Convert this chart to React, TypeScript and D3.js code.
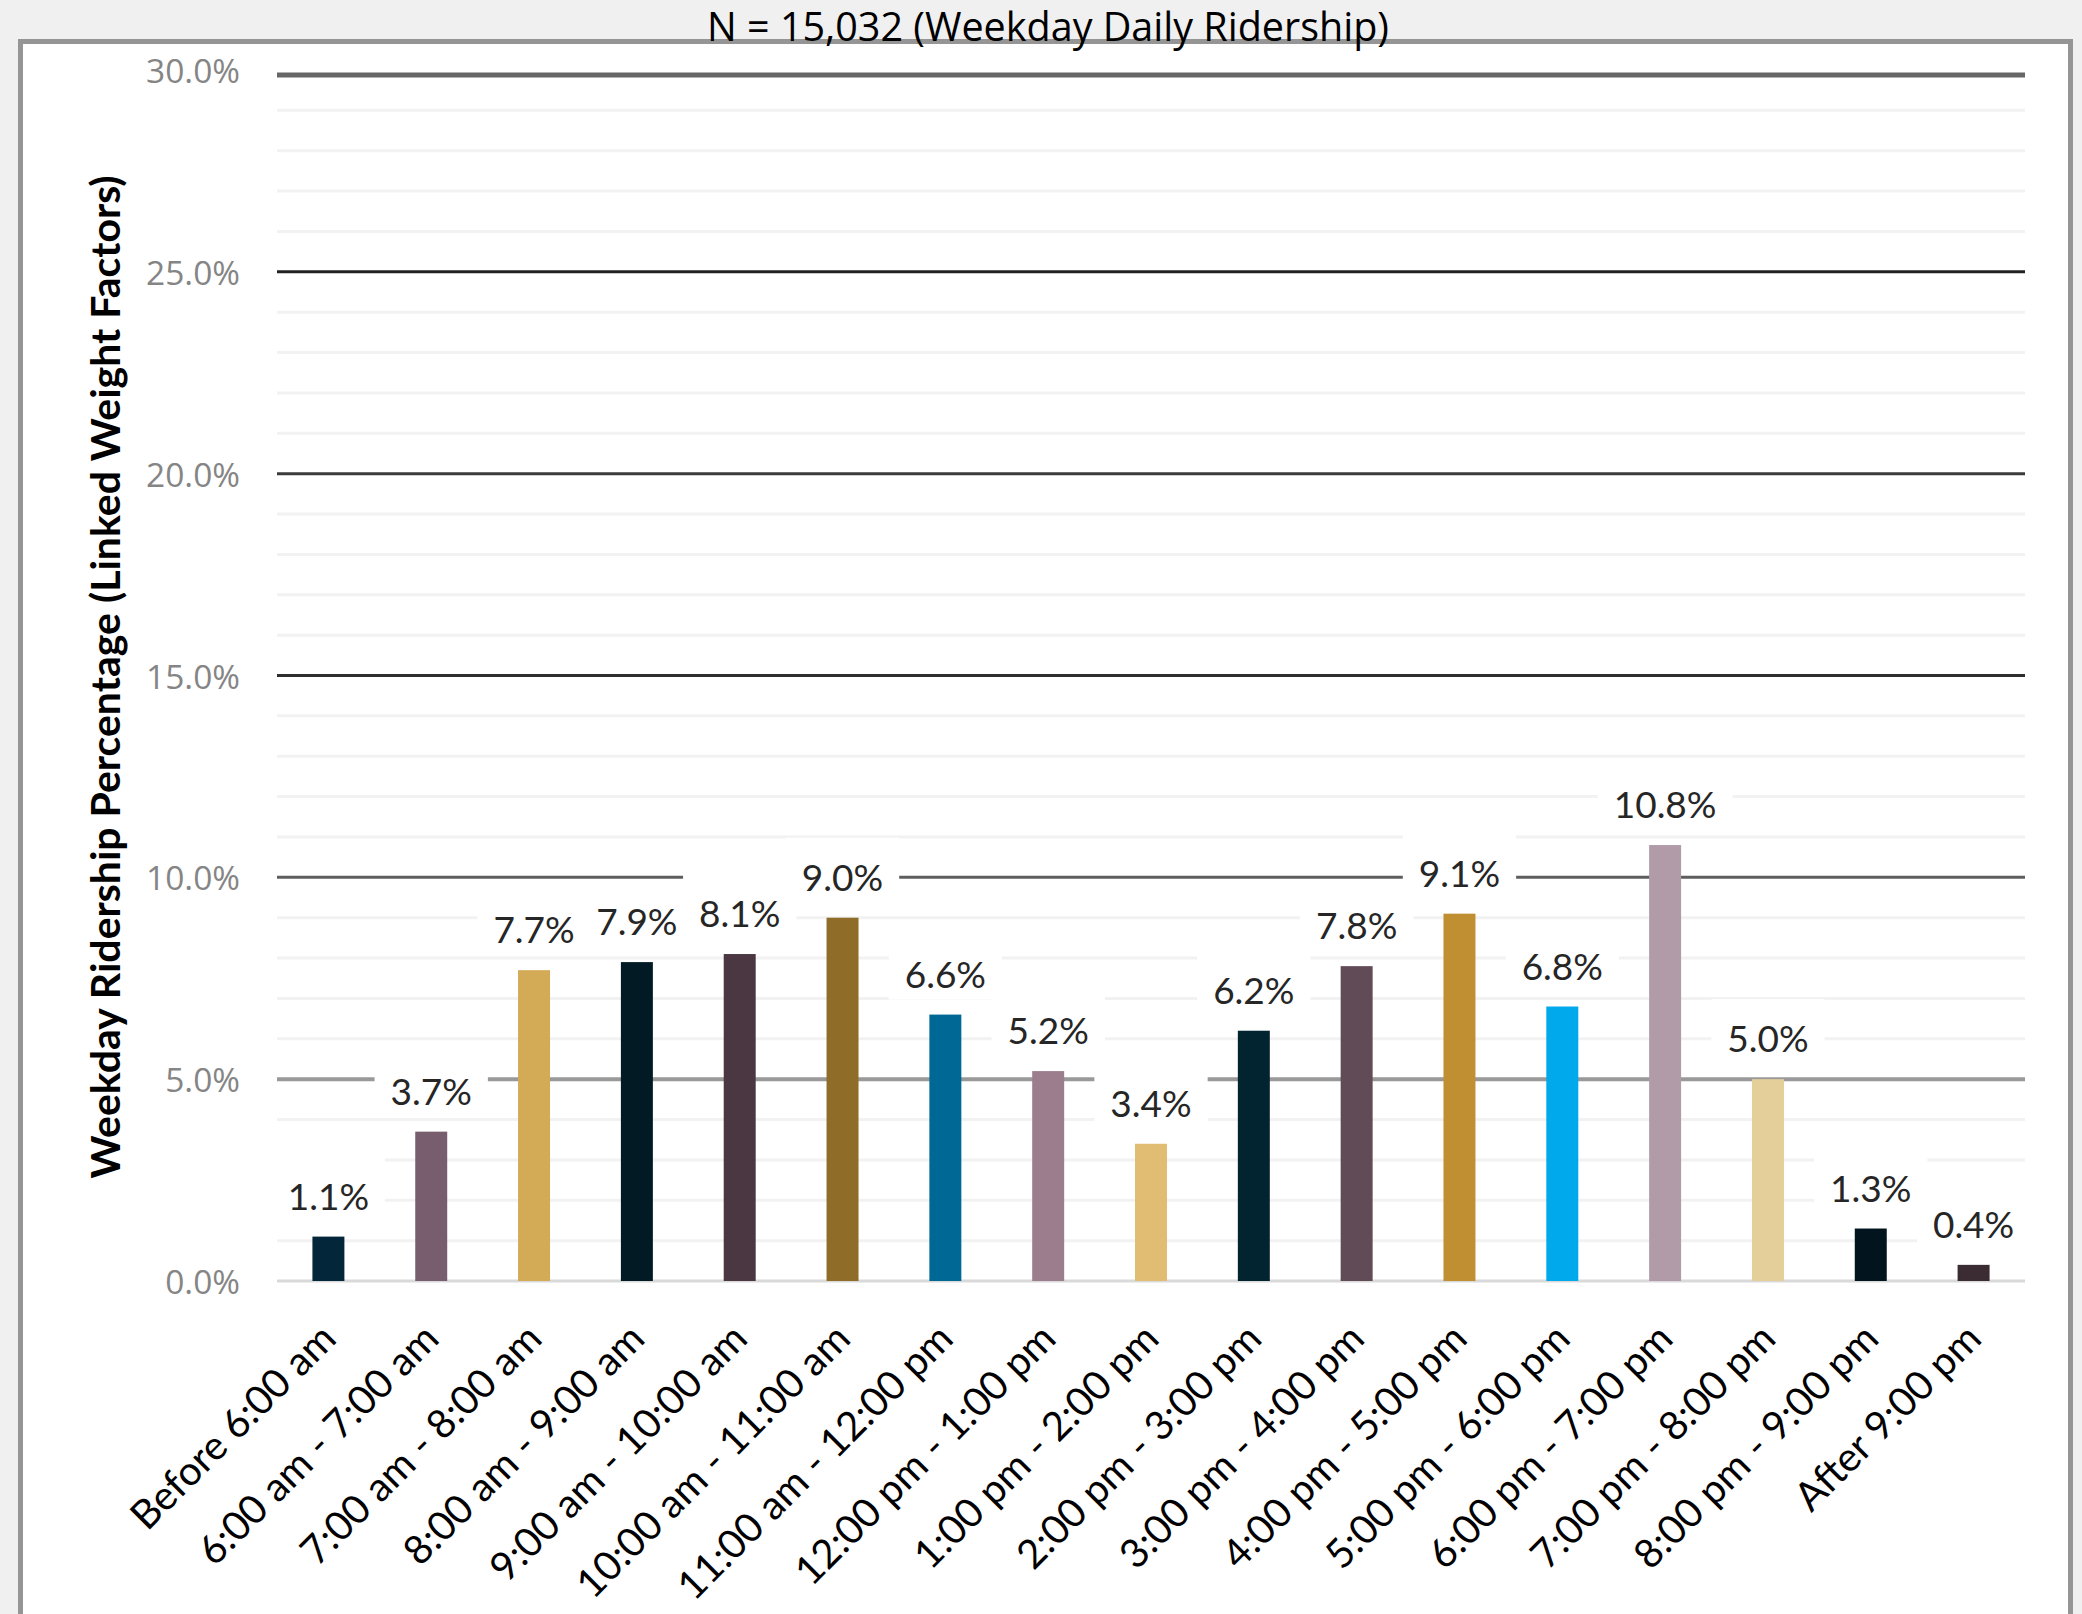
import React from 'react';
import * as d3 from 'd3';

const categories = [
  'Before 6:00 am', '6:00 am - 7:00 am', '7:00 am - 8:00 am', '8:00 am - 9:00 am',
  '9:00 am - 10:00 am', '10:00 am - 11:00 am', '11:00 am - 12:00 pm', '12:00 pm - 1:00 pm',
  '1:00 pm - 2:00 pm', '2:00 pm - 3:00 pm', '3:00 pm - 4:00 pm', '4:00 pm - 5:00 pm',
  '5:00 pm - 6:00 pm', '6:00 pm - 7:00 pm', '7:00 pm - 8:00 pm', '8:00 pm - 9:00 pm',
  'After 9:00 pm',
];
const values = [1.1, 3.7, 7.7, 7.9, 8.1, 9.0, 6.6, 5.2, 3.4, 6.2, 7.8, 9.1, 6.8, 10.8, 5.0, 1.3, 0.4];
const barColors = [
  '#03263A', '#775D6E', '#D3AA55', '#021A24', '#4A3741', '#8F6C27', '#006895', '#9C7D8D',
  '#E1BC73', '#022330', '#604B57', '#C08F32', '#00A9EC', '#B29BA8', '#E4CE9A', '#02141E', '#3B2B33',
];
const majorTicks = [0, 5, 10, 15, 20, 25, 30];
const minorTicks = d3.range(1, 30).filter((v) => v % 5 !== 0);
const titleText = 'N = 15,032 (Weekday Daily Ridership)';
const yTitleText = 'Weekday Ridership Percentage (Linked Weight Factors)';

const W = 2082;
const H = 1614;
const FONT = 'Lato, Calibri, sans-serif';
const SEGOE = "'Open Sans', 'Segoe UI', sans-serif";

const majorStyle: Record<number, { c: string; w: number; off: number }> = {
  0: { c: '#d9d9d9', w: 3, off: 0 },
  5: { c: '#999999', w: 4, off: 0 },
  10: { c: '#5e5e5e', w: 3, off: 0 },
  15: { c: '#2e2e2e', w: 3, off: 0 },
  20: { c: '#3a3a3a', w: 3, off: 0 },
  25: { c: '#222222', w: 3, off: 0 },
  30: { c: '#666666', w: 5, off: 5 },
};

let ctx: CanvasRenderingContext2D | null = null;
function measure(text: string, font: string) {
  if (!ctx) ctx = document.createElement('canvas').getContext('2d');
  if (!ctx) return text.length * 18;
  ctx.font = font;
  return ctx.measureText(text).width;
}

export default function App() {
  const x = d3.scaleBand<string>().domain(categories).range([277, 2025]).paddingInner(0.689).paddingOuter(0.3445);
  const y = d3.scaleLinear().domain([0, 30]).range([1281, 70]);
  const labelSize = 37;
  const labelFont = `${labelSize}px ${FONT}`;

  return (
    <svg width={W} height={H} style={{ position: 'absolute', left: 0, top: 0 }} fontFamily={FONT}>
      <rect x={0} y={0} width={W} height={H} fill="#f0f0f0" />
      <rect x={20.5} y={41.5} width={2050} height={H} fill="#ffffff" stroke="#959595" strokeWidth={5} />
      <text x={1048} y={41} textAnchor="middle" fontSize={39.5} fontFamily={SEGOE} fill="#000">
        {titleText}
      </text>

      {minorTicks.map((t) => (
        <line key={'mn' + t} x1={277} x2={2025} y1={y(t)} y2={y(t)} stroke="#f2f2f2" strokeWidth={3} />
      ))}
      {majorTicks.map((t) => (
        <line key={'mj' + t} x1={277} x2={2025} y1={y(t) + majorStyle[t].off} y2={y(t) + majorStyle[t].off} stroke={majorStyle[t].c} strokeWidth={majorStyle[t].w} />
      ))}
      {majorTicks.map((t) => (
        <text key={'tl' + t} x={240} y={y(t) + 1} dy="0.36em" textAnchor="end" fontSize={33.5} fontFamily={SEGOE} fill="#858585">
          {d3.format('.1f')(t) + '%'}
        </text>
      ))}

      <text transform={`translate(106,677) rotate(-90)`} textAnchor="middle" dy="0.35em" fontSize={41} fontWeight="bold" fill="#000">
        {yTitleText}
      </text>

      {categories.map((c, i) => (
        <rect key={'b' + i} x={x(c)} y={y(values[i])} width={x.bandwidth()} height={y(0) - y(values[i])} fill={barColors[i]} />
      ))}

      {categories.map((c, i) => {
        const cx = (x(c) as number) + x.bandwidth() / 2;
        const base = y(values[i]) - 27;
        const label = d3.format('.1f')(values[i]) + '%';
        const tw = measure(label, labelFont);
        return (
          <g key={'l' + i}>
            <rect x={cx - tw / 2 - 16} y={base - 53} width={tw + 32} height={65} fill="#ffffff" />
            <text x={cx} y={base} textAnchor="middle" fontSize={labelSize} fill="#262626">
              {label}
            </text>
          </g>
        );
      })}

      {categories.map((c, i) => {
        const cx = (x(c) as number) + x.bandwidth() / 2;
        return (
          <text key={'x' + i} transform={`translate(${cx},${y(0) + 50}) rotate(-45)`} textAnchor="end" dy="0.35em" fontSize={40} fill="#000">
            {c}
          </text>
        );
      })}
    </svg>
  );
}
